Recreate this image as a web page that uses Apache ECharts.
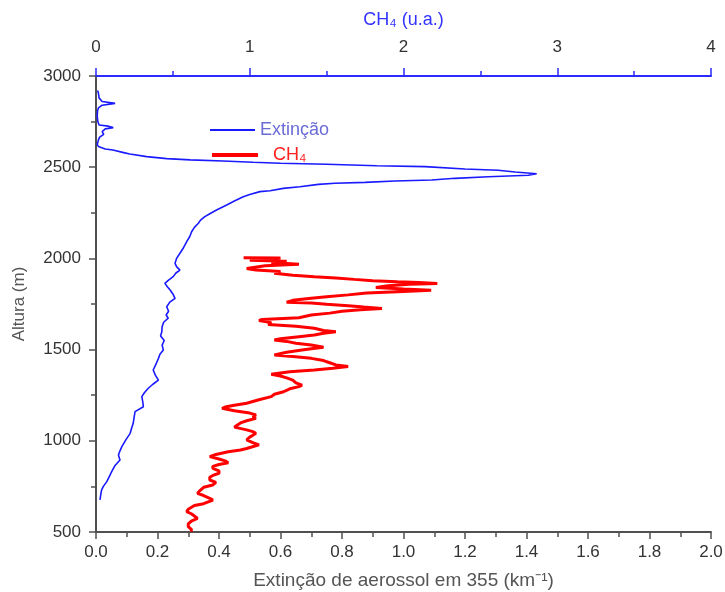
<!DOCTYPE html>
<html>
<head>
<meta charset="utf-8">
<script src="https://cdn.jsdelivr.net/npm/echarts@6/dist/echarts.min.js"></script>
<style>
html,body{margin:0;padding:0;background:#fff;}
#chart{width:725px;height:592px;}
</style>
</head>
<body>
<div id="chart"></div>
<script>
// Extinção profile: altitude (m) and extinction (km^-1)
const extAlt = [2920,2905,2880,2860,2850,2840,2825,2810,2780,2750,2731,2725,2717,2710,2704,2695,2680,2665,2650,2640,2625,2613,2600,2594,2580,2572,2558,2547,2540,2534,2527,2522,2516,2508,2503,2490,2483,2474,2464,2456,2448,2439,2430,2424,2417,2412,2406,2393,2384,2371,2366,2350,2338,2315,2293,2265,2245,2229,2220,2210,2193,2170,2146,2120,2092,2060,2028,2000,1973,1955,1936,1920,1900,1880,1863,1845,1827,1805,1781,1760,1735,1710,1690,1672,1650,1625,1598,1575,1550,1525,1498,1475,1452,1420,1388,1360,1333,1310,1288,1265,1242,1215,1187,1160,1130,1096,1070,1041,1005,968,945,922,895,865,831,800,776,750,730,700,676];
const extVal = [0.005,0.008,0.010,0.020,0.062,0.020,0.008,0.005,0.004,0.006,0.010,0.040,0.056,0.030,0.035,0.020,0.025,0.012,0.008,0.006,0.004,0.008,0.030,0.055,0.090,0.110,0.165,0.230,0.306,0.413,0.511,0.600,0.750,0.913,1.070,1.200,1.308,1.363,1.433,1.406,1.276,1.167,1.092,0.972,0.875,0.777,0.723,0.663,0.609,0.566,0.533,0.500,0.479,0.450,0.425,0.392,0.370,0.354,0.350,0.340,0.333,0.320,0.311,0.305,0.295,0.285,0.273,0.262,0.257,0.262,0.273,0.260,0.251,0.235,0.224,0.232,0.241,0.250,0.257,0.240,0.230,0.236,0.228,0.235,0.220,0.215,0.214,0.210,0.222,0.215,0.219,0.208,0.203,0.195,0.186,0.193,0.203,0.185,0.170,0.158,0.149,0.152,0.154,0.127,0.124,0.121,0.116,0.111,0.097,0.084,0.078,0.073,0.078,0.062,0.051,0.042,0.035,0.024,0.018,0.015,0.013];

// CH4 profile: altitude (m) and CH4 (u.a.)
const ch4Alt = [2003,2002,1996,1990,1984,1978,1968,1960,1945,1936,1928,1918,1908,1900,1893,1885,1878,1872,1868,1863,1858,1850,1840,1832,1825,1818,1810,1800,1790,1781,1770,1760,1755,1748,1740,1733,1725,1718,1710,1700,1690,1675,1665,1660,1648,1638,1628,1617,1605,1598,1590,1580,1571,1560,1553,1545,1535,1525,1513,1505,1498,1485,1470,1462,1452,1440,1428,1416,1407,1398,1388,1378,1365,1355,1345,1333,1318,1305,1297,1285,1269,1255,1242,1225,1206,1195,1185,1178,1165,1152,1142,1130,1123,1110,1098,1087,1075,1069,1060,1050,1041,1030,1020,1005,990,978,968,958,950,940,925,913,900,890,880,870,860,849,835,822,810,800,785,772,758,745,730,712,700,685,675,666,655,645,639,625,612,600,588,575,560,545,530,515,502];
const ch4Val = [0.96,1.20,1.12,1.00,1.24,1.14,1.32,1.10,0.98,1.04,1.20,1.16,1.28,1.42,1.56,1.68,1.80,1.96,2.10,2.22,2.04,1.90,1.82,2.00,2.18,2.00,1.76,1.64,1.50,1.40,1.28,1.24,1.40,1.50,1.64,1.74,1.86,1.72,1.60,1.52,1.40,1.32,1.08,1.06,1.14,1.12,1.30,1.42,1.48,1.56,1.48,1.42,1.32,1.20,1.16,1.24,1.30,1.40,1.48,1.40,1.34,1.24,1.16,1.28,1.40,1.48,1.52,1.56,1.64,1.54,1.42,1.26,1.14,1.20,1.24,1.28,1.30,1.34,1.32,1.26,1.22,1.16,1.14,1.06,0.98,0.90,0.84,0.82,0.90,1.00,1.04,1.02,1.04,0.98,0.94,0.92,0.90,0.90,0.98,1.02,1.04,1.02,1.00,0.98,1.02,1.06,1.06,0.98,0.94,0.86,0.78,0.74,0.80,0.84,0.86,0.80,0.76,0.76,0.80,0.80,0.76,0.74,0.74,0.78,0.76,0.70,0.68,0.66,0.70,0.74,0.76,0.76,0.70,0.64,0.64,0.60,0.59,0.62,0.64,0.66,0.62,0.60,0.60,0.62,0.62];

const extTicks = [0,2,0.2];     // min, max, interval (bottom)
const ch4Ticks = [0,4,1];       // min, max, interval (top)
const altTicks = [500,3000,500];// min, max, interval (left)

const extData = extAlt.map((a,i)=>[extVal[i],a]);
const ch4Data = ch4Alt.map((a,i)=>[ch4Val[i],a]);

const FONT = 'Liberation Sans';
const axisDark = '#505050';
const labelCol = '#333333';

const chart = echarts.init(document.getElementById('chart'), null, {renderer:'canvas'});
chart.setOption({
  animation:false,
  backgroundColor:'#ffffff',
  grid:{left:96,right:14,top:76,bottom:60,containLabel:false,outerBoundsMode:'none'},
  legend:[
    {
      orient:'vertical', left:205, top:116,
      icon:'rect', itemWidth:45, itemHeight:2, itemGap:6,
      textStyle:{fontFamily:FONT,fontSize:18,color:'#6b6bd6'},
      data:['Extinção']
    },
    {
      orient:'vertical', left:207, top:141,
      icon:'rect', itemWidth:46, itemHeight:4, itemGap:6,
      textStyle:{fontFamily:FONT,fontSize:18,color:'#ff2020',padding:[0,0,0,10]},
      data:['CH₄']
    }
  ],
  xAxis:[
    {
      type:'value', position:'bottom',
      min:extTicks[0], max:extTicks[1], interval:extTicks[2],
      name:'Extinção de aerossol em 355 (km⁻¹)',
      nameLocation:'middle', nameGap:39,
      nameTextStyle:{fontFamily:FONT,fontSize:19,color:'#555555'},
      axisLine:{show:true,lineStyle:{color:axisDark,width:2}},
      axisTick:{show:true,inside:false,length:7,lineStyle:{color:axisDark,width:1.5}},
      minorTick:{show:true,splitNumber:2,length:5,lineStyle:{color:axisDark,width:1.5}},
      axisLabel:{fontFamily:FONT,fontSize:17,color:labelCol,margin:12,formatter:v=>v.toFixed(1)},
      splitLine:{show:false}
    },
    {
      type:'value', position:'top',
      min:ch4Ticks[0], max:ch4Ticks[1], interval:ch4Ticks[2],
      name:'CH₄ (u.a.)',
      nameLocation:'middle', nameGap:47,
      nameTextStyle:{fontFamily:FONT,fontSize:18,color:'#3333ff'},
      axisLine:{show:true,onZero:false,lineStyle:{color:'#2b2bff',width:2}},
      axisTick:{show:true,inside:false,length:8,lineStyle:{color:'#2b2bff',width:1.5}},
      minorTick:{show:true,splitNumber:2,length:5,lineStyle:{color:'#2b2bff',width:1.5}},
      axisLabel:{fontFamily:FONT,fontSize:17,color:labelCol,margin:20,formatter:v=>String(v)},
      splitLine:{show:false}
    }
  ],
  yAxis:[{
    type:'value', position:'left',
    min:altTicks[0], max:altTicks[1], interval:altTicks[2],
    name:'Altura (m)',
    nameLocation:'middle', nameGap:68, nameRotate:90,
    nameTextStyle:{fontFamily:FONT,fontSize:17,color:'#555555'},
    axisLine:{show:true,onZero:false,lineStyle:{color:axisDark,width:2}},
    axisTick:{show:true,inside:false,length:7,lineStyle:{color:axisDark,width:1.5}},
    minorTick:{show:true,splitNumber:2,length:5,lineStyle:{color:axisDark,width:1.5}},
    axisLabel:{fontFamily:FONT,fontSize:17,color:labelCol,margin:15,formatter:v=>String(v)},
    splitLine:{show:false}
  }],
  series:[
    {
      name:'Extinção', type:'line', xAxisIndex:0, yAxisIndex:0,
      data:extData, symbol:'none', showSymbol:false,
      lineStyle:{color:'#1a1aff',width:1.6}, itemStyle:{color:'#1a1aff'},
      z:3
    },
    {
      name:'CH₄', type:'line', xAxisIndex:1, yAxisIndex:0,
      data:ch4Data, symbol:'none', showSymbol:false,
      lineStyle:{color:'#ff0000',width:3}, itemStyle:{color:'#ff0000'},
      z:2
    }
  ]
});
</script>
</body>
</html>
